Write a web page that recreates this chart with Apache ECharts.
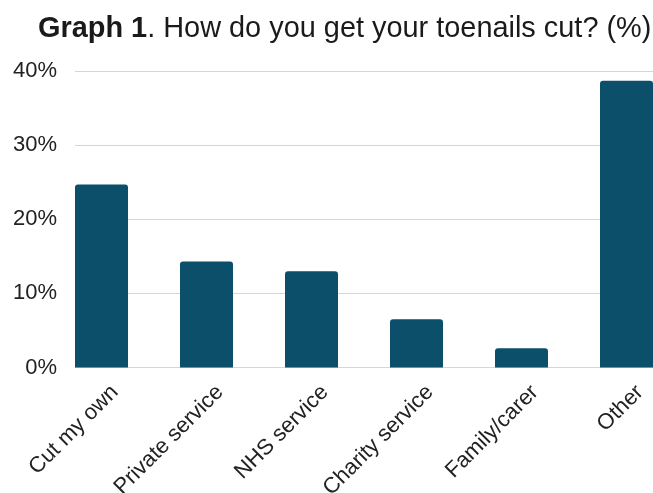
<!DOCTYPE html>
<html>
<head>
<meta charset="utf-8">
<script src="https://cdn.jsdelivr.net/npm/echarts@6/dist/echarts.min.js"></script>
<style>
  html, body { margin: 0; padding: 0; background: #fff; }
  #chart { width: 653px; height: 493px; }
</style>
</head>
<body>
<div id="chart"></div>
<script>
// Survey answers: how respondents get their toenails cut (percent)
const categories = ['Cut my own', 'Private service', 'NHS service', 'Charity service', 'Family/carer', 'Other'];
const shares = [24.7, 14.3, 13.0, 6.5, 2.6, 38.7];
const yTicks = [0, 10, 20, 30, 40];

const FONT = '"Liberation Sans", Arial, sans-serif';
const BAR = '#0b4f6b';

const chart = echarts.init(document.getElementById('chart'), null, { renderer: 'canvas' });

chart.setOption({
  backgroundColor: '#ffffff',
  animation: false,
  title: {
    left: 33,
    top: 10,
    text: '{b|Graph 1}{n|. How do you get your toenails cut? (%)}',
    textStyle: {
      rich: {
        b: { fontFamily: FONT, fontSize: 28.9, fontWeight: 'bold', color: '#1a1a1a' },
        n: { fontFamily: FONT, fontSize: 28.9, fontWeight: 'normal', color: '#1a1a1a' }
      }
    }
  },
  grid: [
    // plotting band for the bars (runs past the right edge of the canvas)
    { left: 49, width: 630, top: 71, bottom: 125.5, containLabel: false, outerBoundsMode: 'none' },
    // value scale with gridlines, starting a little to the right
    { left: 75, right: 0, top: 71, bottom: 125.5, containLabel: false, outerBoundsMode: 'none' }
  ],
  xAxis: [
    {
      gridIndex: 0,
      type: 'category',
      data: categories,
      axisLine: { show: false },
      axisTick: { show: false },
      axisLabel: {
        rotate: 45,
        margin: 8,
        interval: 0,
        verticalAlign: 'top',
        padding: [8, 0, 0, 0],
        fontFamily: FONT,
        fontSize: 22,
        color: '#222'
      }
    },
    {
      gridIndex: 1,
      type: 'value',
      show: false
    }
  ],
  yAxis: [
    {
      gridIndex: 0,
      type: 'value',
      min: yTicks[0],
      max: yTicks[yTicks.length - 1],
      interval: 10,
      show: false,
      splitLine: { show: false }
    },
    {
      gridIndex: 1,
      type: 'value',
      min: yTicks[0],
      max: yTicks[yTicks.length - 1],
      interval: 10,
      axisLine: { show: false },
      axisTick: { show: false },
      splitLine: { show: true, lineStyle: { color: '#d6d6d6', width: 1 } },
      axisLabel: {
        margin: 18,
        fontFamily: FONT,
        fontSize: 22,
        color: '#222',
        formatter: v => v + '%'
      }
    }
  ],
  series: [
    {
      type: 'bar',
      xAxisIndex: 0,
      yAxisIndex: 0,
      data: shares,
      barWidth: 53,
      itemStyle: { color: BAR, borderRadius: [3, 3, 0, 0] },
      z: 3
    }
  ]
});
</script>
</body>
</html>
